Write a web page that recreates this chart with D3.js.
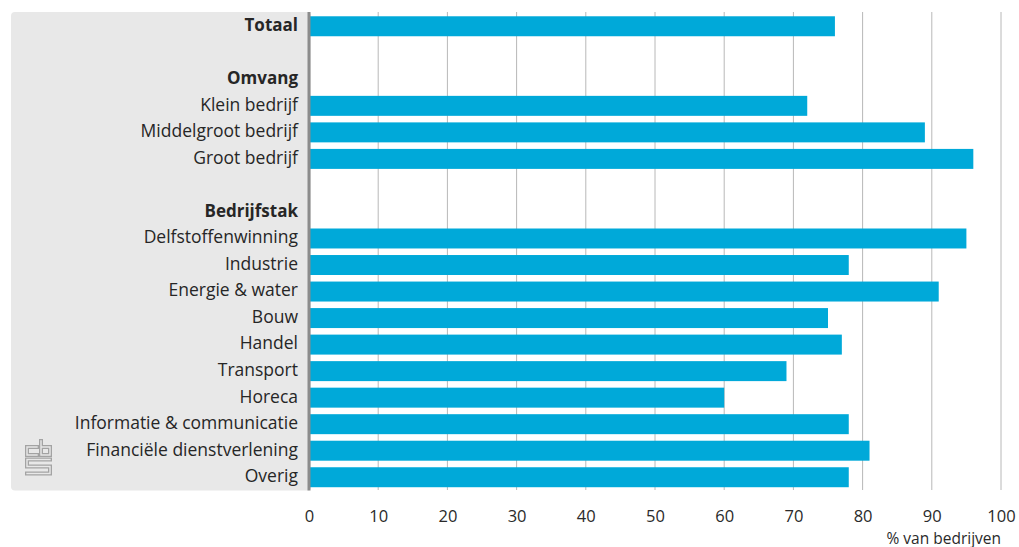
<!DOCTYPE html>
<html>
<head>
<meta charset="utf-8">
<script src="https://cdn.jsdelivr.net/npm/d3@7"></script>
<style>
  html, body { margin: 0; padding: 0; background: #fff; }
  svg { display: block; font-family: "Open Sans", Lato, sans-serif; }
</style>
</head>
<body>
<svg id="chart" width="1019" height="547"></svg>
<script>
// Rows of the chart, top to bottom; headers have no value
const categories = [
  "Totaal", "", "Omvang", "Klein bedrijf", "Middelgroot bedrijf", "Groot bedrijf", "",
  "Bedrijfstak", "Delfstoffenwinning", "Industrie", "Energie & water", "Bouw", "Handel",
  "Transport", "Horeca", "Informatie & communicatie", "Financiële dienstverlening", "Overig"
];
const values = [76, null, null, 72, 89, 96, null, null, 95, 78, 91, 75, 77, 69, 60, 78, 81, 78];
const boldRows = ["Totaal", "Omvang", "Bedrijfstak"];
const xTicks = [0, 10, 20, 30, 40, 50, 60, 70, 80, 90, 100];
const xTitle = "% van bedrijven";

const svg = d3.select("#chart");
const rowKeys = categories.map((c, i) => i);

const x = d3.scaleLinear().domain([0, 100]).range([309, 1001]);
const y = d3.scaleBand().domain(rowKeys).range([13, 490.5]).paddingInner(0.247).paddingOuter(0.1235);

// grey label panel
svg.append("rect")
  .attr("x", 11).attr("y", 12)
  .attr("width", 300).attr("height", 478.5)
  .attr("rx", 4).attr("ry", 4)
  .attr("fill", "#e8e8e8");

// vertical gridlines
svg.append("g").selectAll("line")
  .data(xTicks.filter(d => d > 0))
  .join("line")
  .attr("x1", d => x(d)).attr("x2", d => x(d))
  .attr("y1", 12).attr("y2", 490)
  .attr("stroke", "#b8b8b8").attr("stroke-width", 1);

// bars
svg.append("g").selectAll("rect")
  .data(rowKeys.filter(i => values[i] != null))
  .join("rect")
  .attr("x", x(0))
  .attr("y", i => y(i))
  .attr("width", i => x(values[i]) - x(0))
  .attr("height", y.bandwidth())
  .attr("fill", "#00a9d9");

// axis line at zero
svg.append("line")
  .attr("x1", x(0)).attr("x2", x(0))
  .attr("y1", 12).attr("y2", 490.5)
  .attr("stroke", "#8c8c8c").attr("stroke-width", 3);

// category labels
svg.append("g").selectAll("text")
  .data(rowKeys.filter(i => categories[i] !== ""))
  .join("text")
  .attr("x", 298)
  .attr("y", i => y(i) + y.bandwidth() / 2)
  .attr("dy", "0.28em")
  .attr("text-anchor", "end")
  .attr("font-size", i => boldRows.includes(categories[i]) ? 17 : 17.5)
  .attr("font-weight", i => boldRows.includes(categories[i]) ? 700 : 400)
  .attr("fill", "#262626")
  .text(i => categories[i]);

// x axis tick labels
const xAxis = d3.axisBottom(x).tickValues(xTicks).tickSize(0).tickPadding(0);
const gx = svg.append("g").attr("transform", "translate(0,510)").call(xAxis);
gx.select(".domain").remove();
gx.selectAll("text")
  .attr("font-family", "'Open Sans', Lato, sans-serif")
  .attr("font-size", 16.5)
  .attr("fill", "#2a2a2a")
  .attr("dy", "0.71em");

svg.append("text")
  .attr("x", 1001).attr("y", 543.5)
  .attr("text-anchor", "end")
  .attr("font-size", 15.5)
  .attr("fill", "#2a2a2a")
  .text(xTitle);

// cbs logo
const logo = svg.append("g").attr("fill", "none").attr("stroke-linejoin", "miter").attr("stroke-linecap", "square");
const logoPaths = [
  "M37,447 H27 V455 H37",
  "M41,441 V455 H50 V447 H41",
  "M50,459.5 H27 V466.5 H50 V473.5 H27"
];
logo.selectAll("path.o").data(logoPaths).join("path").attr("class", "o")
  .attr("d", d => d).attr("stroke", "#a3a3a3").attr("stroke-width", 4);
logo.selectAll("path.i").data(logoPaths).join("path").attr("class", "i")
  .attr("d", d => d).attr("stroke", "#e8e8e8").attr("stroke-width", 1.4);
</script>
</body>
</html>
